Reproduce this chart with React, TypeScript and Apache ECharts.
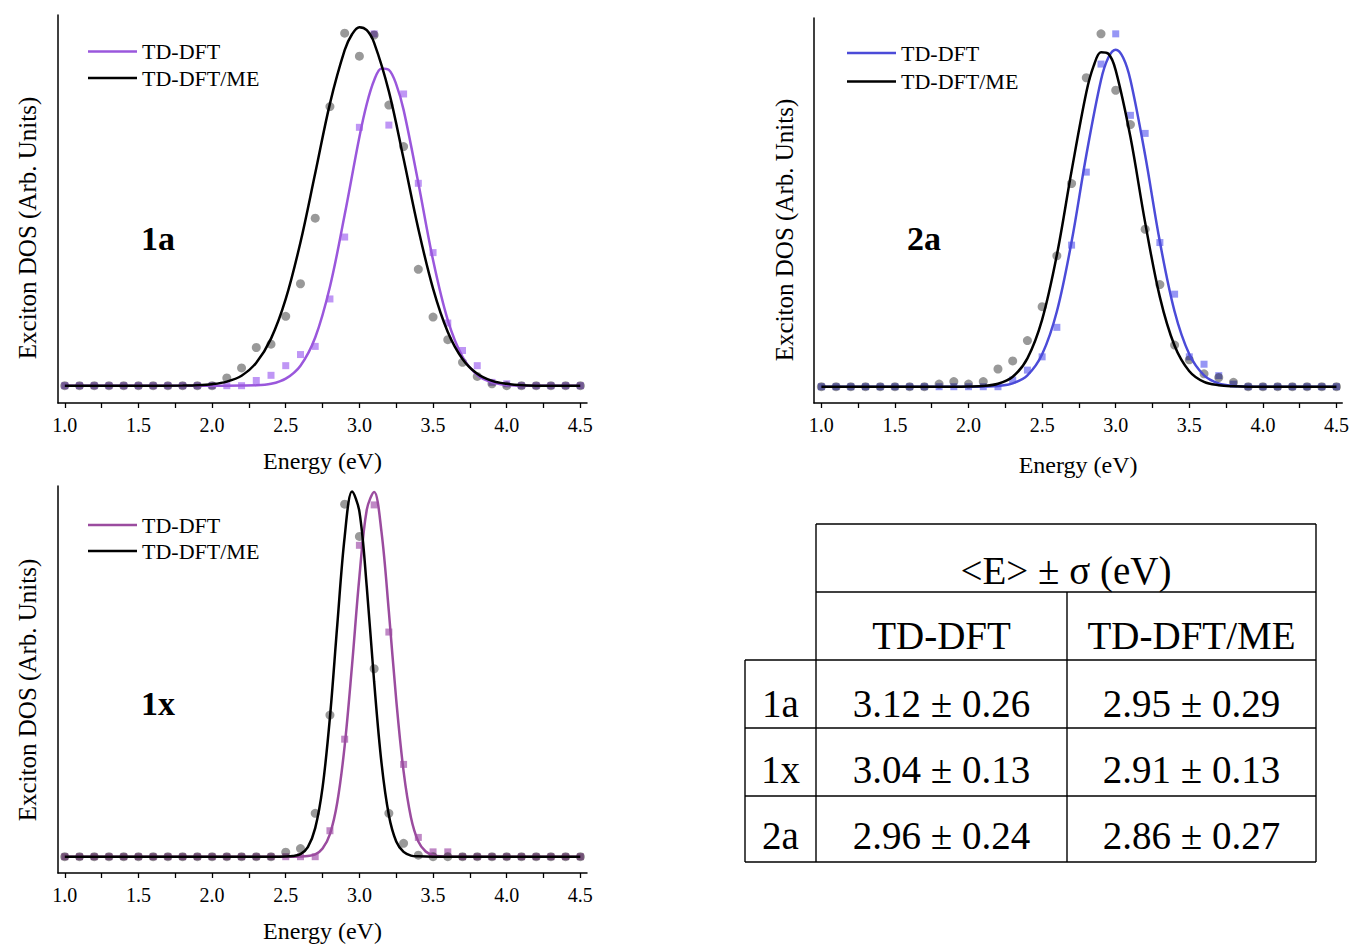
import React, { useEffect, useRef } from "react";
import * as echarts from "echarts";

const FONT = "'Liberation Serif', 'Times New Roman', serif";

// Energy grid of the sampled points (eV)
const energyGrid = [1.0, 1.1, 1.2, 1.3, 1.4, 1.5, 1.6, 1.7, 1.8, 1.9, 2.0, 2.1, 2.2, 2.3, 2.4, 2.5, 2.6, 2.7, 2.8, 2.9, 3.0, 3.1, 3.2, 3.3, 3.4, 3.5, 3.6, 3.7, 3.8, 3.9, 4.0, 4.1, 4.2, 4.3, 4.4, 4.5];

const tickValues = [1.0, 1.25, 1.5, 1.75, 2.0, 2.25, 2.5, 2.75, 3.0, 3.25, 3.5, 3.75, 4.0, 4.25, 4.5];
const labelValues = [1.0, 1.5, 2.0, 2.5, 3.0, 3.5, 4.0, 4.5];

// Panel 1a
const a1TdPoints = [0, 0, 0, 0, 0, 0, 0, 0, 0, 0, 0, 0, 0, 0.014, 0.028, 0.054, 0.084, 0.106, 0.234, 0.401, 0.697, 0.949, 0.703, 0.787, 0.546, 0.359, 0.169, 0.095, 0.054, 0.009, 0.005, 0, 0, 0, 0, 0];
const a1MePoints = [0, 0, 0, 0, 0, 0, 0, 0, 0, 0, 0, 0.021, 0.048, 0.103, 0.112, 0.187, 0.275, 0.452, 0.753, 0.951, 0.889, 0.946, 0.757, 0.645, 0.314, 0.185, 0.124, 0.063, 0.025, 0.005, 0, 0, 0, 0, 0, 0];
const a1TdFit = [[1.0, 0], [2.0, 0], [2.2, 0.0005], [2.3, 0.001], [2.4, 0.005], [2.5, 0.019], [2.6, 0.054], [2.7, 0.13], [2.8, 0.267], [2.9, 0.461], [3.0, 0.671], [3.05, 0.76], [3.1, 0.824], [3.15, 0.856], [3.2, 0.852], [3.25, 0.813], [3.3, 0.744], [3.4, 0.547], [3.5, 0.339], [3.6, 0.177], [3.7, 0.078], [3.8, 0.029], [3.9, 0.009], [4.0, 0.002], [4.1, 0], [4.5, 0]];
const a1MeFit = [[1.0, 0], [1.5, 0], [1.8, 0.0005], [1.9, 0.0012], [2.0, 0.004], [2.1, 0.011], [2.2, 0.027], [2.3, 0.062], [2.4, 0.127], [2.5, 0.234], [2.6, 0.387], [2.7, 0.573], [2.8, 0.761], [2.9, 0.905], [2.95, 0.948], [3.0, 0.967], [3.05, 0.959], [3.1, 0.925], [3.2, 0.794], [3.3, 0.612], [3.4, 0.423], [3.5, 0.262], [3.6, 0.145], [3.7, 0.072], [3.8, 0.032], [3.9, 0.013], [4.0, 0.005], [4.1, 0.001], [4.2, 0], [4.5, 0]];

// Panel 2a
const a2TdPoints = [0, 0, 0, 0, 0, 0, 0, 0, 0, 0, 0, 0, 0, 0.018, 0.045, 0.081, 0.161, 0.384, 0.582, 0.875, 0.957, 0.736, 0.687, 0.391, 0.251, 0.081, 0.061, 0.03, 0.007, 0, 0, 0, 0, 0, 0, 0];
const a2MePoints = [0, 0, 0, 0, 0, 0, 0, 0, 0.007, 0.014, 0.007, 0.014, 0.048, 0.07, 0.125, 0.217, 0.355, 0.551, 0.838, 0.957, 0.804, 0.711, 0.427, 0.277, 0.113, 0.073, 0.035, 0.025, 0.012, 0, 0, 0, 0, 0, 0, 0];
const a2TdFit = [[1.0, 0], [2.0, 0], [2.1, 0.0005], [2.2, 0.002], [2.3, 0.009], [2.4, 0.031], [2.5, 0.088], [2.6, 0.204], [2.7, 0.393], [2.8, 0.628], [2.9, 0.832], [2.95, 0.893], [3.0, 0.914], [3.05, 0.893], [3.1, 0.832], [3.2, 0.628], [3.3, 0.393], [3.4, 0.204], [3.5, 0.088], [3.6, 0.031], [3.7, 0.009], [3.8, 0.002], [3.9, 0.0005], [4.0, 0], [4.5, 0]];
const a2MeFit = [[1.0, 0], [1.9, 0], [2.0, 0.0005], [2.1, 0.002], [2.2, 0.008], [2.3, 0.027], [2.4, 0.077], [2.5, 0.182], [2.6, 0.357], [2.7, 0.585], [2.8, 0.798], [2.85, 0.87], [2.9, 0.907], [2.95, 0.903], [3.0, 0.858], [3.1, 0.677], [3.2, 0.445], [3.3, 0.243], [3.4, 0.111], [3.5, 0.042], [3.6, 0.013], [3.7, 0.004], [3.8, 0.001], [3.9, 0], [4.5, 0]];

// Panel 1x
const x1TdPoints = [0, 0, 0, 0, 0, 0, 0, 0, 0, 0, 0, 0, 0, 0, 0, 0, 0, 0, 0.07, 0.317, 0.84, 0.949, 0.606, 0.249, 0.052, 0.013, 0.013, 0, 0, 0, 0, 0, 0, 0, 0, 0];
const x1MePoints = [0, 0, 0, 0, 0, 0, 0, 0, 0, 0, 0, 0, 0, 0, 0, 0.012, 0.022, 0.117, 0.382, 0.951, 0.864, 0.507, 0.117, 0.036, 0.004, 0, 0, 0, 0, 0, 0, 0, 0, 0, 0, 0];
const x1TdFit = [[1.0, 0], [2.55, 0], [2.6, 0.0005], [2.65, 0.002], [2.7, 0.006], [2.75, 0.022], [2.8, 0.061], [2.85, 0.147], [2.9, 0.299], [2.95, 0.516], [3.0, 0.755], [3.05, 0.936], [3.1, 0.984], [3.15, 0.876], [3.2, 0.661], [3.25, 0.423], [3.3, 0.23], [3.35, 0.106], [3.4, 0.041], [3.45, 0.014], [3.5, 0.004], [3.55, 0.001], [3.65, 0], [4.5, 0]];
const x1MeFit = [[1.0, 0], [2.4, 0], [2.5, 0.0005], [2.55, 0.002], [2.6, 0.007], [2.65, 0.026], [2.7, 0.077], [2.75, 0.187], [2.8, 0.376], [2.85, 0.626], [2.9, 0.863], [2.95, 0.985], [3.0, 0.931], [3.05, 0.728], [3.1, 0.472], [3.15, 0.253], [3.2, 0.112], [3.25, 0.041], [3.3, 0.013], [3.35, 0.003], [3.4, 0.001], [3.5, 0], [4.5, 0]];

const legendNames = ["TD-DFT", "TD-DFT/ME"];
const panelNames = ["1a", "2a", "1x"];
const yAxisTitle = "Exciton DOS (Arb. Units)";
const xAxisTitle = "Energy (eV)";

// Table
const tableTitle = "<E> \u00b1 \u03c3 (eV)";
const tableColumns = ["TD-DFT", "TD-DFT/ME"];
const tableRows = ["1a", "1x", "2a"];
const tableTdDft = ["3.12 \u00b1 0.26", "3.04 \u00b1 0.13", "2.96 \u00b1 0.24"];
const tableTdDftMe = ["2.95 \u00b1 0.29", "2.91 \u00b1 0.13", "2.86 \u00b1 0.27"];

const panels = [
  { name: panelNames[0], color: "#9a57dc", sqColor: "rgba(160,100,240,0.85)", td: a1TdPoints, me: a1MePoints, tdFit: a1TdFit, meFit: a1MeFit,
    grid: { left: 58, top: 15, width: 529, height: 388 }, xmin: 0.954, xmax: 4.545, ymin: -0.0467, ymax: 1,
    legend: { x: 88, y: 51.5, gap: 26.5 }, label: { x: 158, y: 238 }, yTitle: { x: 27, y: 228 }, nameGap: 46 },
  { name: panelNames[1], color: "#4b4bd8", sqColor: "rgba(100,100,240,0.85)", td: a2TdPoints, me: a2MePoints, tdFit: a2TdFit, meFit: a2MeFit,
    grid: { left: 814, top: 18, width: 529, height: 385 }, xmin: 0.95, xmax: 4.539, ymin: -0.0442, ymax: 1,
    legend: { x: 847, y: 53, gap: 28.5 }, label: { x: 924, y: 238 }, yTitle: { x: 784, y: 230 }, nameGap: 50 },
  { name: panelNames[2], color: "#9b4c9f", sqColor: "rgba(160,80,170,0.85)", td: x1TdPoints, me: x1MePoints, tdFit: x1TdFit, meFit: x1MeFit,
    grid: { left: 58, top: 486, width: 529, height: 387 }, xmin: 0.954, xmax: 4.545, ymin: -0.044, ymax: 1,
    legend: { x: 88, y: 525, gap: 26 }, label: { x: 158, y: 703 }, yTitle: { x: 27, y: 690 }, nameGap: 46 },
];

function buildOption() {
  const grids: any[] = [];
  const xAxes: any[] = [];
  const yAxes: any[] = [];
  const series: any[] = [];
  const graphics: any[] = [];

  panels.forEach((p, i) => {
    grids.push({ ...p.grid, containLabel: false });
    xAxes.push({
      type: "value", gridIndex: i, min: p.xmin, max: p.xmax,
      axisLine: { show: true, onZero: false, lineStyle: { color: "#000", width: 1.5 } },
      axisTick: { show: true, inside: false, length: 5, customValues: tickValues, lineStyle: { color: "#000", width: 1.3 } },
      axisLabel: { customValues: labelValues, formatter: (v: number) => v.toFixed(1), fontFamily: FONT, fontSize: 20, color: "#000", margin: 12 },
      splitLine: { show: false },
      name: xAxisTitle, nameLocation: "middle", nameGap: p.nameGap,
      nameTextStyle: { fontFamily: FONT, fontSize: 24, color: "#000" },
    });
    yAxes.push({
      type: "value", gridIndex: i, min: p.ymin, max: p.ymax,
      axisLine: { show: true, onZero: false, lineStyle: { color: "#000", width: 1.5 } },
      axisTick: { show: false }, axisLabel: { show: false }, splitLine: { show: false },
    });
    series.push({
      type: "scatter", name: legendNames[0], xAxisIndex: i, yAxisIndex: i, symbol: "rect", symbolSize: 7,
      itemStyle: { color: p.sqColor }, data: energyGrid.map((e, k) => [e, p.td[k]]), z: 2, clip: false,
    });
    series.push({
      type: "scatter", name: legendNames[1], xAxisIndex: i, yAxisIndex: i, symbol: "circle", symbolSize: 9,
      itemStyle: { color: "rgba(0,0,0,0.5)" }, data: energyGrid.map((e, k) => [e, p.me[k]]), z: 3, clip: false,
    });
    series.push({
      type: "line", name: legendNames[0], xAxisIndex: i, yAxisIndex: i, showSymbol: false, symbol: "none", smooth: 0.35,
      lineStyle: { color: p.color, width: 2.5 }, data: p.tdFit, z: 4,
    });
    series.push({
      type: "line", name: legendNames[1], xAxisIndex: i, yAxisIndex: i, showSymbol: false, symbol: "none", smooth: 0.35,
      lineStyle: { color: "#000", width: 2.5 }, data: p.meFit, z: 5,
    });

    // legend
    const L = p.legend;
    [p.color, "#000"].forEach((c, k) => {
      graphics.push({ type: "line", shape: { x1: L.x, y1: L.y + k * L.gap, x2: L.x + 49, y2: L.y + k * L.gap }, style: { stroke: c, lineWidth: 2.5 } });
      graphics.push({ type: "text", x: L.x + 54, y: L.y + k * L.gap, style: { text: legendNames[k], fontFamily: FONT, fontSize: 22, fill: "#000", textVerticalAlign: "middle", textAlign: "left" } });
    });
    // panel label
    graphics.push({ type: "text", x: p.label.x, y: p.label.y, style: { text: p.name, fontFamily: FONT, fontSize: 34, fontWeight: "bold", fill: "#000", textAlign: "center", textVerticalAlign: "middle" } });
    // y title
    graphics.push({ type: "text", x: p.yTitle.x, y: p.yTitle.y, rotation: Math.PI / 2, style: { text: yAxisTitle, fontFamily: FONT, fontSize: 25, fill: "#000", textAlign: "center", textVerticalAlign: "middle" } });
  });

  // table
  const colL = 745, col1 = 816, colM = 1067, colR = 1316;
  const rowY = [524, 592, 660, 728, 796, 862];
  const ls = { stroke: "#000", lineWidth: 1.4 };
  const hl = (x1: number, x2: number, y: number) => graphics.push({ type: "line", shape: { x1, y1: y, x2, y2: y }, style: ls });
  const vl = (x: number, y1: number, y2: number) => graphics.push({ type: "line", shape: { x1: x, y1, x2: x, y2 }, style: ls });
  hl(col1, colR, rowY[0]);
  hl(col1, colR, rowY[1]);
  for (let k = 2; k < 6; k++) hl(colL, colR, rowY[k]);
  vl(colL, rowY[2], rowY[5]);
  vl(col1, rowY[0], rowY[5]);
  vl(colM, rowY[1], rowY[5]);
  vl(colR, rowY[0], rowY[5]);
  const tt = (text: string, x: number, y: number) => graphics.push({ type: "text", x, y, style: { text, fontFamily: FONT, fontSize: 39, fill: "#000", textAlign: "center", textVerticalAlign: "middle" } });
  tt(tableTitle, (col1 + colR) / 2, 570);
  tt(tableColumns[0], (col1 + colM) / 2, 635);
  tt(tableColumns[1], (colM + colR) / 2, 635);
  const rowCenters = [703, 769, 835];
  tableRows.forEach((r, k) => {
    tt(r, (colL + col1) / 2, rowCenters[k]);
    tt(tableTdDft[k], (col1 + colM) / 2, rowCenters[k]);
    tt(tableTdDftMe[k], (colM + colR) / 2, rowCenters[k]);
  });

  return {
    animation: false,
    backgroundColor: "#fff",
    textStyle: { fontFamily: FONT },
    grid: grids,
    xAxis: xAxes,
    yAxis: yAxes,
    series,
    graphic: graphics,
  };
}

export default function App() {
  const ref = useRef<HTMLDivElement>(null);
  useEffect(() => {
    if (!ref.current) return;
    const chart = echarts.init(ref.current, undefined, { renderer: "svg" });
    chart.setOption(buildOption() as any);
    return () => chart.dispose();
  }, []);
  return <div ref={ref} style={{ position: "fixed", left: 0, top: 0, width: 1352, height: 947, background: "#fff" }} />;
}
